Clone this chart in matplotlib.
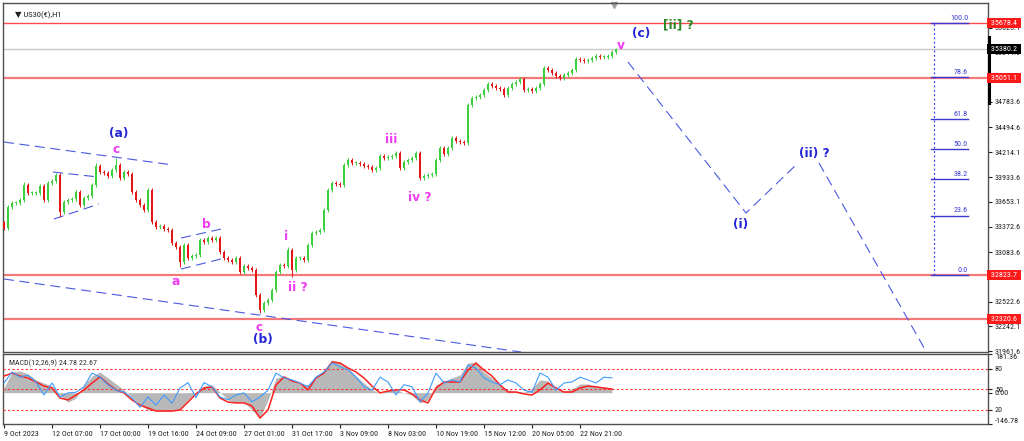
import matplotlib
matplotlib.use("Agg")
import matplotlib.pyplot as plt
from matplotlib import font_manager
import numpy as np

# ---------------- data ----------------
closes = [33356, 33594, 33639, 33639, 33673, 33843, 33752, 33752, 33752, 33832,
          33673, 33866, 33888, 33956, 33537, 33650, 33673, 33684, 33764, 33616,
          33696, 33718, 33843, 34058, 33990, 33979, 33945, 34013, 34070, 33922,
          33990, 33968, 33764, 33673, 33616, 33560, 33786, 33424, 33367, 33378,
          33344, 33333, 33186, 33141, 32971, 33163, 33016, 33039, 33050, 33220,
          33197, 33243, 33220, 33243, 33084, 33016, 32993, 32971, 33016, 32857,
          32925, 32903, 32880, 32597, 32427, 32506, 32540, 32653, 32857, 32937,
          32925, 33107, 32880, 33016, 33016, 32993, 33163, 33299, 33310, 33333,
          33560, 33786, 33866, 33854, 33843, 34070, 34126, 34092, 34092, 34081,
          34058, 34047, 34013, 34036, 34172, 34149, 34160, 34172, 34206, 34036,
          34104, 34126, 34149, 34206, 33922, 33945, 33956, 33968, 34126, 34262,
          34194, 34262, 34375, 34342, 34330, 34319, 34749, 34829, 34840, 34863,
          34919, 34987, 34965, 34942, 34931, 34863, 34942, 34987, 35010, 35044,
          34919, 34931, 34908, 34942, 34987, 35169, 35146, 35112, 35078, 35055,
          35089, 35112, 35146, 35271, 35259, 35248, 35259, 35282, 35305, 35293,
          35293, 35305, 35350, 35380]
first_open = 33420
high_marks = {5: 33877, 23: 34092, 28: 34149, 71: 33141}
low_marks = {14: 33480, 44: 32914, 64: 32393, 72: 32800, 104: 33899}

macd_hist = [22, 97, 102, 88, 60, 45, 31, -11, -44, -25,
             36, 78, 97, 69, 41, 13, -20, -58, -81, -86,
             -86, -86, -81, -34, 3, 31, 36, 3, -34, -48,
             -44, -81, -119, -34, 69, 78, 60, 41, 36, 69,
             106, 153, 144, 116, 78, 45, 13, -1, 13, 13,
             -1, -11, -48, -34, 36, 55, 69, 83, 139, 144,
             97, 69, 36, 13, 8, 3, 20, 60, 55, 15,
             8, 17, 41, 41, 31, 27, 22]
macd_signal = [78, 92, 78, 69, 50, 31, 22, -25, -34, -11,
               13, 45, 74, 41, 13, -1, -34, -58, -72, -86,
               -86, -86, -81, -44, -6, 22, 27, -25, -44, -48,
               -48, -62, -119, -81, 36, 74, 55, 45, 13, 69,
               92, 144, 139, 116, 97, 69, 31, -1, 8, 13,
               13, -6, -34, -48, 22, 50, 50, 50, 106, 139,
               106, 78, 36, 3, 3, -6, -11, 13, 45, 22,
               3, 3, 22, 31, 27, 22, 17]
osc_line = [59.5, 75.6, 68, 71, 61, 42, 59.5, 39, 45, 46,
            54, 74, 68, 57, 49, 46, 38, 24, 39, 27,
            42, 30, 52, 60, 38, 60, 54, 39, 35, 42,
            45, 32, 39, 49, 74, 67, 64, 59.5, 54, 68,
            75.6, 89, 83, 79, 68, 54, 49, 68, 61, 42,
            57, 54, 32, 45, 74, 59.5, 64, 61, 86, 81,
            67, 61, 57, 64, 59.5, 49, 46, 74, 68, 49,
            59.5, 61, 68, 64, 59.5, 68, 67]
osc_levels = [80, 50, 20]

time_labels = ['9 Oct 2023', '12 Oct 07:00', '17 Oct 00:00', '19 Oct 16:00',
               '24 Oct 09:00', '27 Oct 01:00', '31 Oct 17:00', '3 Nov 09:00',
               '8 Nov 03:00', '10 Nov 19:00', '15 Nov 12:00', '20 Nov 05:00',
               '22 Nov 21:00']
time_label_bars = [0, 12, 24, 36, 48, 60, 72, 84, 96, 108, 120, 132, 144]

red_levels = [35678.4, 35051.1, 32823.7, 32320.6]
current_price = 35380.2
price_ticks = [35625.1, 35344.6, 35064.1, 34783.6, 34494.6, 34214.1, 33933.6,
               33653.1, 33372.6, 33083.6, 32803.1, 32522.6, 32242.1, 31961.6]

# channels (bar, price)
chan_a = ([0, 42.25], [34330, 34070])
chan_low = ([0, 129.25], [32778, 31951])
flag_up = ([12.25, 23.5], [33990, 33934])
flag_lo = ([12.5, 23.75], [33458, 33628])
b_up = ([44.25, 54.25], [33242, 33344])
b_lo = ([44.25, 54.25], [32891, 33005])
proj1_x = [156, 185.5, 198.5]
proj1_y = [35237, 33526, 34092]
proj2_x = [203.75, 231.75]
proj2_y = [34092, 31860]

fib_low, fib_high = 32823.7, 35678.4
fib_levels = [0.0, 23.6, 38.2, 50.0, 61.8, 78.6, 100.0]

wave_labels = [  # text, bar, price, color
    ('(a)', 28.75, 34432, 'blue'), ('c', 28.0, 34240, 'mag'),
    ('b', 50.5, 33390, 'mag'), ('a', 43.0, 32755, 'mag'),
    ('i', 70.5, 33254, 'mag'), ('ii ?', 73.5, 32687, 'mag'),
    ('c', 63.75, 32234, 'mag'), ('(b)', 64.75, 32087, 'blue'),
    ('iii', 96.75, 34353, 'mag'), ('iv ?', 104.0, 33707, 'mag'),
    ('v', 154.25, 35429, 'mag'), ('(c)', 159.25, 35565, 'blue'),
    ('[ii] ?', 168.5, 35656, 'green'), ('(i)', 184.25, 33401, 'blue'),
    ('(ii) ?', 202.5, 34205, 'blue'),
]

# ---------------- fonts ----------------
fl = font_manager.fontManager.ttflist
names = {f.name for f in fl}
NARROW, STRETCH, SMALL = 'DejaVu Sans', 'normal', 4.9
for cand in ['Liberation Sans Narrow', 'Arial Narrow', 'Roboto Condensed',
             'Open Sans Condensed']:
    if cand in names:
        NARROW, STRETCH, SMALL = cand, 'normal', 5.8
        break
else:
    if any(f.name == 'DejaVu Sans' and str(f.stretch) in ('condensed', '75', 'semi-condensed')
           for f in fl):
        NARROW, STRETCH, SMALL = 'DejaVu Sans', 'condensed', 5.0
FK = dict(family=NARROW, fontstretch=STRETCH)

# ---------------- figure ----------------
W, H = 1024, 441
fig = plt.figure(figsize=(10.24, 4.41), dpi=100)
fig.patch.set_facecolor('white')


def box(x0, y0, x1, y1):
    return [x0 / W, 1 - y1 / H, (x1 - x0) / W, (y1 - y0) / H]


ax = fig.add_axes(box(3, 3, 988, 352))
ax2 = fig.add_axes(box(3, 354, 988, 424), sharex=ax)

XMIN, XMAX = -0.25, 246.0
ax.set_xlim(XMIN, XMAX)
ax.set_ylim(31951, 35905)

for a in (ax, ax2):
    for s in a.spines.values():
        s.set_color('#505050')
        s.set_linewidth(1.0)

# candles
c = np.array(closes, dtype=float)
o = np.array([first_open] + closes[:-1], dtype=float)
xs = np.arange(len(c))
hi = np.maximum(o, c) + 18
lo = np.minimum(o, c) - 18
for k, v in high_marks.items():
    hi[k] = v
for k, v in low_marks.items():
    lo[k] = v
up = c >= o
cols = np.where(up, '#3ccf3c', '#e51616')
ax.vlines(xs, lo, hi, colors=cols, lw=0.7, zorder=4)
ax.bar(xs, np.maximum(np.abs(c - o), 8), bottom=np.minimum(o, c), width=0.5,
       color=cols, linewidth=0, zorder=5)

# horizontal levels
ax.axhline(red_levels[0], color='#ff4a4a', lw=1.0, zorder=2)
for lv in red_levels[1:]:
    ax.axhline(lv, color='#f47a7a', lw=1.6, zorder=2)
ax.axhline(current_price, color='#c8c8c8', lw=1.0, zorder=1)

# channels / projections
dash = (0, (9, 5))
bl = '#4a58e0'
for xx, yy in (chan_a, chan_low, flag_up, flag_lo, b_up, b_lo):
    ax.plot(xx, yy, color=bl, lw=0.8, ls=dash, zorder=3)
ax.plot(proj1_x, proj1_y, color=bl, lw=0.8, ls=dash, zorder=3)
ax.plot(proj2_x, proj2_y, color=bl, lw=0.8, ls=dash, zorder=3)

# fib retracement
fx0, fx1, fxv = 231.75, 241.0, 232.5
ax.plot([fxv, fxv], [fib_low, fib_high], color='#3a3af0', lw=0.9, ls=(0, (1.5, 2)), zorder=3)
for lvl in fib_levels:
    p = fib_low + (fib_high - fib_low) * lvl / 100.0
    ax.plot([fx0, fx1], [p, p], color='#3a3ad0', lw=1.0, zorder=3)
    ax.text(fx1, p + 25, f'{lvl:.1f}', color='#3a3ad0', fontsize=SMALL,
            ha='right', va='bottom', zorder=6, **FK)

# wave labels
colmap = {'blue': '#2525d8', 'mag': '#f03cf0', 'green': '#2a8a2a'}
for txt, bx, py, cl in wave_labels:
    ax.text(bx, py, txt, color=colmap[cl], fontsize=8.8, fontweight='bold',
            ha='center', va='center', zorder=7)

# title
ax.text(0.012, 0.975, '\u25BC US30(\u20AC),H1', transform=ax.transAxes,
        fontsize=SMALL + 0.3, family=[NARROW, 'DejaVu Sans'], fontstretch=STRETCH,
        va='top', ha='left', color='#202020')
ax.plot([152.5], [35885], marker='v', color='#a0a0a0', ms=4, clip_on=False)

# right price axis
ax.yaxis.tick_right()
ax.set_yticks(price_ticks)
ax.set_yticklabels([f'{t:.1f}' for t in price_ticks])
ax.tick_params(axis='y', direction='out', length=3, width=0.8, pad=2,
               labelsize=SMALL, colors='#202020')
for lab in ax.get_yticklabels():
    lab.set_family(NARROW)
    lab.set_fontstretch(STRETCH)
ax.tick_params(axis='x', bottom=False, labelbottom=False)
ytr = ax.get_yaxis_transform()
for lv in red_levels:
    ax.text(1.0015, lv, f' {lv:.1f} ', transform=ytr, fontsize=SMALL,
            color='white', va='center', ha='left', clip_on=False, zorder=10,
            bbox=dict(boxstyle='square,pad=0.25', fc='#ff1a1a', ec='none'), **FK)
ax.text(1.0015, current_price, f' {current_price:.1f} ', transform=ytr, fontsize=SMALL,
        color='white', va='center', ha='left', clip_on=False, zorder=10,
        bbox=dict(boxstyle='square,pad=0.25', fc='#000000', ec='none'), **FK)
ax.plot([1.001, 1.001], [35520, 34772], transform=ytr, color='black', lw=2.2,
        clip_on=False, zorder=9)

# ---------------- MACD panel ----------------
xm = np.arange(len(macd_hist)) * 2
ax3 = ax2.twinx()
ax2.set_ylim(-146.78, 181.36)
ax2.fill_between(xm, 0, macd_hist, color='#b8b8b8', lw=0, zorder=2)
ax2.plot(xm, macd_signal, color='#ff2020', lw=1.1, zorder=4)
ax2.yaxis.tick_right()
ax2.set_yticks([181.36, 0.0, -146.78])
ax2.set_yticklabels(['181.36', '0.00', '-146.78'])
ax2.tick_params(axis='y', which='both', left=False, labelleft=False, right=True,
                labelright=True, direction='out', length=3, width=0.8, pad=2,
                labelsize=SMALL, colors='#202020')
lbls = ax2.get_yticklabels()
for lab in lbls:
    lab.set_family(NARROW)
    lab.set_fontstretch(STRETCH)
lbls[0].set_va('top')
lbls[2].set_va('bottom')

ax3.set_ylim(-0.5, 101.9)
for lv in osc_levels:
    ax3.axhline(lv, color='#ff3030', lw=0.8, ls=(0, (2, 2)), zorder=1)
ax3.plot(xm, osc_line, color='#3d9cff', lw=0.8, zorder=3)
ax3.set_yticks(osc_levels)
ax3.set_yticklabels([str(v) for v in osc_levels])
ax3.tick_params(axis='y', direction='out', length=3, width=0.8, pad=2,
                labelsize=SMALL, colors='#202020')
for lab in ax3.get_yticklabels():
    lab.set_family(NARROW)
    lab.set_fontstretch(STRETCH)
for s in ax3.spines.values():
    s.set_visible(False)

ax2.text(0.006, 0.93, 'MACD(12,26,9) 24.78 22.67', transform=ax2.transAxes,
         fontsize=SMALL, va='top', ha='left', color='#303030', zorder=6, **FK)

ax2.set_xticks(time_label_bars)
ax2.set_xticklabels(time_labels, ha='left')
ax2.tick_params(axis='x', direction='out', length=3, width=0.8, pad=2,
                labelsize=SMALL, colors='#202020')
for lab in ax2.get_xticklabels():
    lab.set_family(NARROW)
    lab.set_fontstretch(STRETCH)
ax2.set_xlim(XMIN, XMAX)

fig.savefig('out.png', dpi=100, facecolor='white')
